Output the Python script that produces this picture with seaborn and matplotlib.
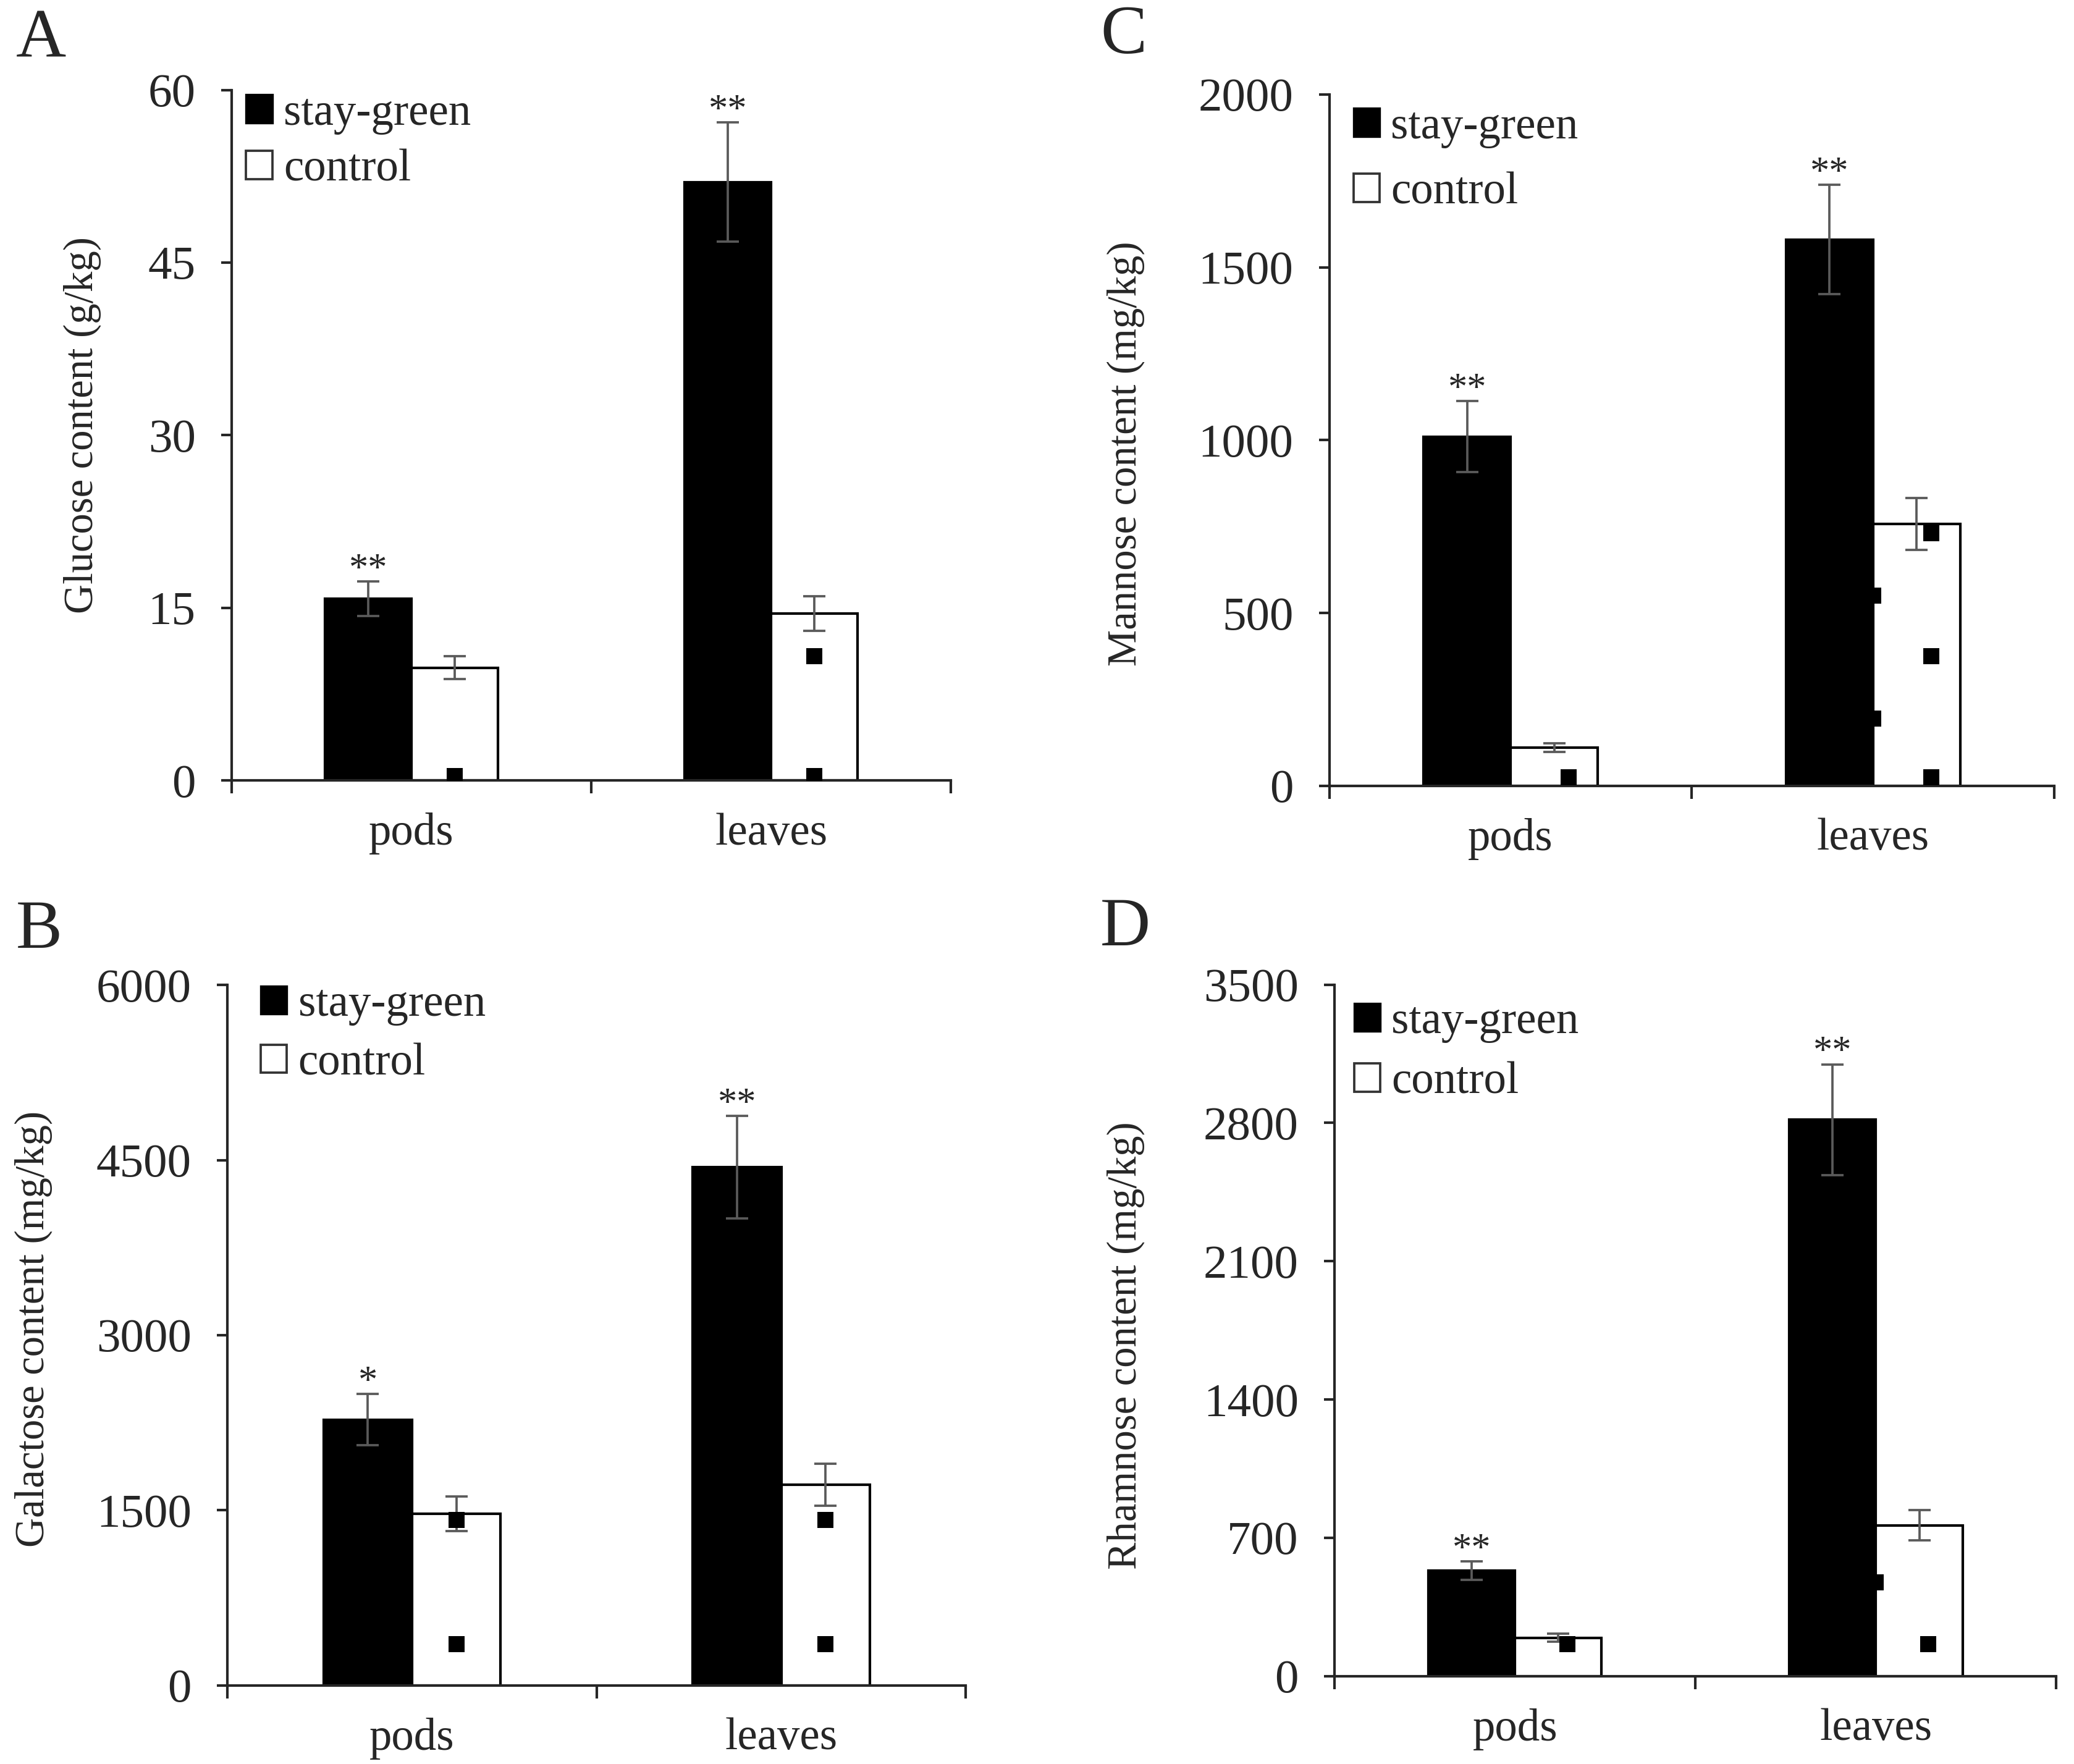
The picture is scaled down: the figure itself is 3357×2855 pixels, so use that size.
import numpy as np
import pandas as pd
import matplotlib
matplotlib.use("Agg")
import matplotlib.pyplot as plt
from matplotlib.patches import Patch
import seaborn as sns

# categorias e grupos
categories = ["pods", "leaves"]
groups = ["stay-green", "control"]

# A - glucose (g/kg)
glucose_sg = [15.8, 52.0]
glucose_sg_err = [1.5, 5.2]
glucose_ctrl = [9.8, 14.5]
glucose_ctrl_err = [1.0, 1.5]
glucose_stars = ["**", "**"]
glucose_ticks = [0, 15, 30, 45, 60]
glucose_dots = {"pods": [0.4], "leaves": [10.8, 0.4]}
glucose_edge_dots = {"pods": [], "leaves": []}

# B - galactose (mg/kg)
galactose_sg = [2275, 4440]
galactose_sg_err = [220, 440]
galactose_ctrl = [1470, 1720]
galactose_ctrl_err = [147, 180]
galactose_stars = ["*", "**"]
galactose_ticks = [0, 1500, 3000, 4500, 6000]
galactose_dots = {"pods": [1415, 351], "leaves": [1415, 351]}
galactose_edge_dots = {"pods": [], "leaves": []}

# C - mannose (mg/kg)
mannose_sg = [1010, 1580]
mannose_sg_err = [103, 158]
mannose_ctrl = [111, 757]
mannose_ctrl_err = [12, 75]
mannose_stars = ["**", "**"]
mannose_ticks = [0, 500, 1000, 1500, 2000]
mannose_dots = {"pods": [25], "leaves": [730, 375, 25]}
mannose_edge_dots = {"pods": [], "leaves": [551, 195]}

# D - rhamnose (mg/kg)
rhamnose_sg = [535, 2817]
rhamnose_sg_err = [47, 280]
rhamnose_ctrl = [194, 763]
rhamnose_ctrl_err = [20, 77]
rhamnose_stars = ["**", "**"]
rhamnose_ticks = [0, 700, 1400, 2100, 2800, 3500]
rhamnose_dots = {"pods": [161], "leaves": [161]}
rhamnose_edge_dots = {"pods": [], "leaves": [475]}

sns.set_style("ticks")
plt.rcParams["font.family"] = ["Liberation Serif", "DejaVu Serif"]
plt.rcParams["axes.linewidth"] = 1.0

BAR_W = 0.48
FS = 17.5
ERR_COLOR = "#5a5a5a"
palette = {"stay-green": "black", "control": "white"}


def draw_panel(ax, sg, sg_err, ctrl, ctrl_err, stars, ticks, ylabel,
               dots, edge_dots, ylab_pos, leg_pos, leg_space, dot_shift=0.0):
    df = pd.DataFrame({
        "tissue": categories * 2,
        "group": [groups[0]] * 2 + [groups[1]] * 2,
        "value": sg + ctrl,
    })
    sns.barplot(data=df, x="tissue", y="value", hue="group",
                order=categories, hue_order=groups, palette=palette,
                edgecolor="black", linewidth=1.0, width=BAR_W,
                errorbar=None, legend=False, ax=ax, zorder=2)

    # barras de erro
    for cont, err in zip(ax.containers, [sg_err, ctrl_err]):
        xs = [b.get_x() + b.get_width() / 2 for b in cont]
        ys = [b.get_height() for b in cont]
        ax.errorbar(xs, ys, yerr=err, fmt="none", ecolor=ERR_COLOR,
                    elinewidth=0.9, capsize=4.3, capthick=0.9, zorder=3)

    # asteriscos
    sg_bars = ax.containers[0]
    for b, e, s in zip(sg_bars, sg_err, stars):
        ax.annotate(s, (b.get_x() + b.get_width() / 2, b.get_height() + e),
                    xytext=(0, 0.5), textcoords="offset points",
                    ha="center", va="baseline", fontsize=15)

    # pontinhos pretos
    for i, cat in enumerate(categories):
        xc = i + BAR_W / 4 + dot_shift
        for v in dots[cat]:
            ax.scatter(xc, v, marker="s", s=38, color="black", zorder=4,
                       linewidths=0)
        for v in edge_dots[cat]:
            ax.scatter(i, v, marker="s", s=38, color="black", zorder=4,
                       linewidths=0)

    ax.set_xlim(-0.5, 1.5)
    ax.set_ylim(0, ticks[-1])
    ax.set_yticks(ticks)
    ax.tick_params(axis="y", direction="out", length=4, width=1.0,
                   labelsize=18.5, pad=10)
    ax.set_xticks([0, 1])
    ax.set_xticklabels(categories)
    ax.set_xticks([-0.5, 0.5, 1.5], minor=True)
    ax.tick_params(axis="x", which="major", length=0, labelsize=FS, pad=12.5)
    ax.tick_params(axis="x", which="minor", direction="out", length=5,
                   width=1.0)
    ax.set_xlabel("")
    ax.set_ylabel(ylabel, fontsize=16)
    ax.yaxis.label.set_verticalalignment("center")
    ax.yaxis.set_label_coords(*ylab_pos)
    sns.despine(ax=ax)

    handles = [Patch(facecolor="black", edgecolor="black", linewidth=0.8),
               Patch(facecolor="white", edgecolor="#333333", linewidth=0.9)]
    ax.legend(handles, groups, loc="center left", bbox_to_anchor=leg_pos,
              frameon=False, fontsize=FS, handlelength=0.58,
              handleheight=0.58, handletextpad=0.25, borderpad=0,
              borderaxespad=0, labelspacing=leg_space)


fig = plt.figure(figsize=(3357 / 300, 2855 / 300), dpi=300)
axA = fig.add_axes([0.1117, 0.5576, 0.3468, 0.3914])
axC = fig.add_axes([0.6410, 0.5545, 0.3495, 0.3920])
axB = fig.add_axes([0.1097, 0.0446, 0.3560, 0.3970])
axD = fig.add_axes([0.6435, 0.0498, 0.3480, 0.3920])

draw_panel(axA, glucose_sg, glucose_sg_err, glucose_ctrl, glucose_ctrl_err,
           glucose_stars, glucose_ticks, "Glucose content (g/kg)",
           glucose_dots, glucose_edge_dots, (-0.208, 0.515), (0.020, 0.925), 0.32)
draw_panel(axB, galactose_sg, galactose_sg_err, galactose_ctrl,
           galactose_ctrl_err, galactose_stars, galactose_ticks,
           "Galactose content (mg/kg)", galactose_dots, galactose_edge_dots,
           (-0.263, 0.509), (0.045, 0.9295), 0.38)
draw_panel(axC, mannose_sg, mannose_sg_err, mannose_ctrl, mannose_ctrl_err,
           mannose_stars, mannose_ticks, "Mannose content (mg/kg)",
           mannose_dots, mannose_edge_dots, (-0.281, 0.48), (0.033, 0.905), 0.53,
           dot_shift=0.04)
draw_panel(axD, rhamnose_sg, rhamnose_sg_err, rhamnose_ctrl, rhamnose_ctrl_err,
           rhamnose_stars, rhamnose_ticks, "Rhamnose content (mg/kg)",
           rhamnose_dots, rhamnose_edge_dots, (-0.289, 0.478), (0.027, 0.902), 0.41,
           dot_shift=0.025)

# letras dos paineis
for letra, x, y in [("A", 0.0077, 0.9675), ("B", 0.0077, 0.4626),
                    ("C", 0.5306, 0.9698), ("D", 0.5306, 0.4642)]:
    fig.text(x, y, letra, fontsize=27, ha="left", va="baseline")

fig.savefig("out.png", dpi=300)
plt.close(fig)
